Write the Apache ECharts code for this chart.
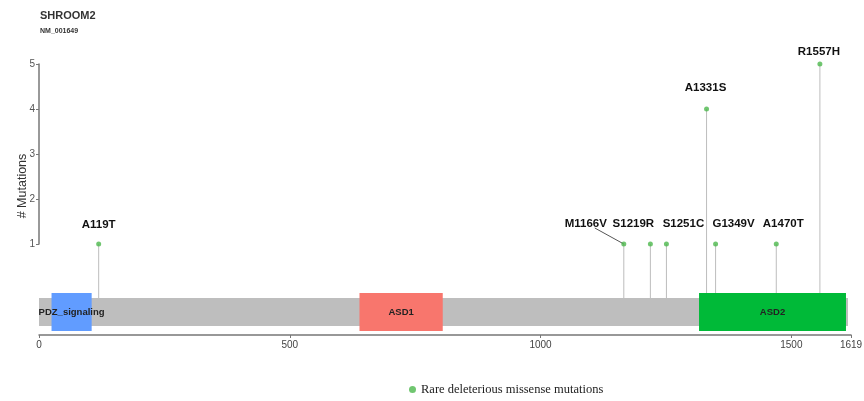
<!DOCTYPE html>
<html>
<head>
<meta charset="utf-8">
<script src="https://cdn.jsdelivr.net/npm/echarts@6/dist/echarts.min.js"></script>
<style>
  html, body { margin: 0; padding: 0; background: #fff; }
  #chart { width: 864px; height: 401px; }
</style>
</head>
<body>
<div id="chart"></div>
<script>
// SHROOM2 protein (NM_001649) with rare deleterious missense mutations
const geneName = 'SHROOM2';
const transcript = 'NM_001649';
const proteinLength = 1619;
const backboneEnd = 1613;

const domainNames = ['PDZ_signaling', 'ASD1', 'ASD2'];
const domainStart = [25, 639, 1316];
const domainEnd = [105, 805, 1609];
const domainColors = ['#619CFF', '#F8766D', '#00BA38'];

const mutationNames = ['A119T', 'M1166V', 'S1219R', 'S1251C', 'A1331S', 'G1349V', 'A1470T', 'R1557H'];
const mutationPos = [119, 1166, 1219, 1251, 1331, 1349, 1470, 1557];
const mutationCount = [1, 1, 1, 1, 4, 1, 1, 5];

const xTicks = [0, 500, 1000, 1500, 1619];
const yTicks = [1, 2, 3, 4, 5];

const legendName = 'Rare deleterious missense mutations';

// label placement (pixels from the point), repelled to avoid overlaps
const labelShift = {
  'A119T': [0, -19],
  'M1166V': [-38, -20, true],
  'S1219R': [-17, -20],
  'S1251C': [17, -20],
  'A1331S': [-1, -21],
  'G1349V': [18, -20],
  'A1470T': [7, -20],
  'R1557H': [-1, -12]
};

// vertical extent of the backbone and domain boxes, in y-axis units
const BAR_TOP = -0.2, BAR_BOTTOM = -0.822;
const DOM_TOP = -0.089, DOM_BOTTOM = -0.933;

const chart = echarts.init(document.getElementById('chart'));

const domainData = domainNames.map((n, i) => [domainStart[i], domainEnd[i], i]);
const mutData = mutationNames.map((n, i) => [mutationPos[i], mutationCount[i], n]);

const FONT = '"Liberation Sans", Arial, sans-serif';

chart.setOption({
  animation: false,
  graphic: [
    { type: 'text', left: 40, top: 10, style: { text: geneName, font: 'bold 11px ' + FONT, fill: '#333' } },
    { type: 'text', left: 40, top: 28, style: { text: transcript, font: 'bold 7px ' + FONT, fill: '#333' } },
    { type: 'text', x: 22.5, y: 186, rotation: Math.PI / 2,
      style: { text: '# Mutations', font: '12.5px ' + FONT, fill: '#333', align: 'center', verticalAlign: 'middle' } }
  ],
  legend: {
    data: [legendName],
    left: 404, top: 378,
    icon: 'circle', itemWidth: 7, itemHeight: 7, itemGap: 5,
    textStyle: { fontFamily: '"Liberation Serif", "Times New Roman", serif', fontSize: 12.5, color: '#222' },
    selectedMode: false
  },
  grid: [
    { left: 39, right: 13, top: 64, bottom: 66, containLabel: false, outerBoundsMode: 'none' },
    { left: 39, right: 13, top: 64, height: 180, containLabel: false, outerBoundsMode: 'none' }
  ],
  xAxis: [
    {
      type: 'value', gridIndex: 0, min: 0, max: proteinLength,
      splitLine: { show: false },
      axisLine: { show: true, onZero: false, lineStyle: { color: '#777', width: 1.5 } },
      axisTick: { show: true, length: 3, customValues: xTicks, lineStyle: { color: '#777' } },
      axisLabel: { customValues: xTicks, formatter: v => String(v), fontSize: 10, color: '#444', margin: 5, fontFamily: FONT }
    },
    { type: 'value', gridIndex: 1, min: 0, max: proteinLength, show: false }
  ],
  yAxis: [
    { type: 'value', gridIndex: 0, min: -1.022, max: 5, show: false },
    {
      type: 'value', gridIndex: 1, min: 1, max: 5, interval: 1,
      splitLine: { show: false },
      axisLine: { show: true, lineStyle: { color: '#777', width: 1.5 } },
      axisTick: { show: true, length: 3, customValues: yTicks, lineStyle: { color: '#777' } },
      axisLabel: { customValues: yTicks, fontSize: 10, color: '#555', margin: 4, fontFamily: FONT }
    }
  ],
  series: [
    {
      // stems and mutation labels
      type: 'custom', xAxisIndex: 0, yAxisIndex: 0, silent: true,
      data: mutData,
      renderItem: function (params, api) {
        const x = api.value(0), y = api.value(1);
        const name = mutationNames[params.dataIndex];
        const top = api.coord([x, y]);
        const base = api.coord([x, BAR_TOP]);
        const sh = labelShift[name] || [0, -20];
        const children = [
          { type: 'line', shape: { x1: base[0], y1: base[1], x2: top[0], y2: top[1] },
            style: { stroke: '#BDBDBD', lineWidth: 1 } },
          { type: 'text', x: top[0] + sh[0], y: top[1] + sh[1],
            style: { text: name, font: 'bold 11.5px ' + FONT, fill: '#111', align: 'center', verticalAlign: 'middle' } }
        ];
        if (sh[2]) {
          children.push({ type: 'line',
            shape: { x1: top[0] + sh[0] + 9, y1: top[1] + sh[1] + 4, x2: top[0], y2: top[1] },
            style: { stroke: '#555', lineWidth: 1 } });
        }
        return { type: 'group', children: children };
      },
      z: 1
    },
    {
      // protein backbone and domains
      type: 'custom', xAxisIndex: 0, yAxisIndex: 0, silent: true,
      data: domainData,
      renderItem: function (params, api) {
        const children = [];
        if (params.dataIndex === 0) {
          const a = api.coord([0, BAR_TOP]);
          const b = api.coord([backboneEnd, BAR_BOTTOM]);
          children.push({ type: 'rect', shape: { x: a[0], y: a[1], width: b[0] - a[0], height: b[1] - a[1] },
            style: { fill: '#BEBEBE' } });
        }
        const s = api.value(0), e = api.value(1), i = api.value(2);
        const p1 = api.coord([s, DOM_TOP]);
        const p2 = api.coord([e, DOM_BOTTOM]);
        children.push({ type: 'rect', shape: { x: p1[0], y: p1[1], width: p2[0] - p1[0], height: p2[1] - p1[1] },
          style: { fill: domainColors[i] } });
        const mid = api.coord([(s + e) / 2, (BAR_TOP + BAR_BOTTOM) / 2]);
        children.push({ type: 'text', x: mid[0], y: mid[1],
          style: { text: domainNames[i], font: 'bold 9.5px ' + FONT, fill: '#222', align: 'center', verticalAlign: 'middle' },
          z2: 10 });
        return { type: 'group', children: children };
      },
      z: 2
    },
    {
      name: legendName,
      type: 'scatter', xAxisIndex: 0, yAxisIndex: 0,
      data: mutData.map(d => [d[0], d[1]]),
      symbol: 'circle', symbolSize: 5,
      itemStyle: { color: '#4CB84C' },
      z: 3
    }
  ]
});
</script>
</body>
</html>
